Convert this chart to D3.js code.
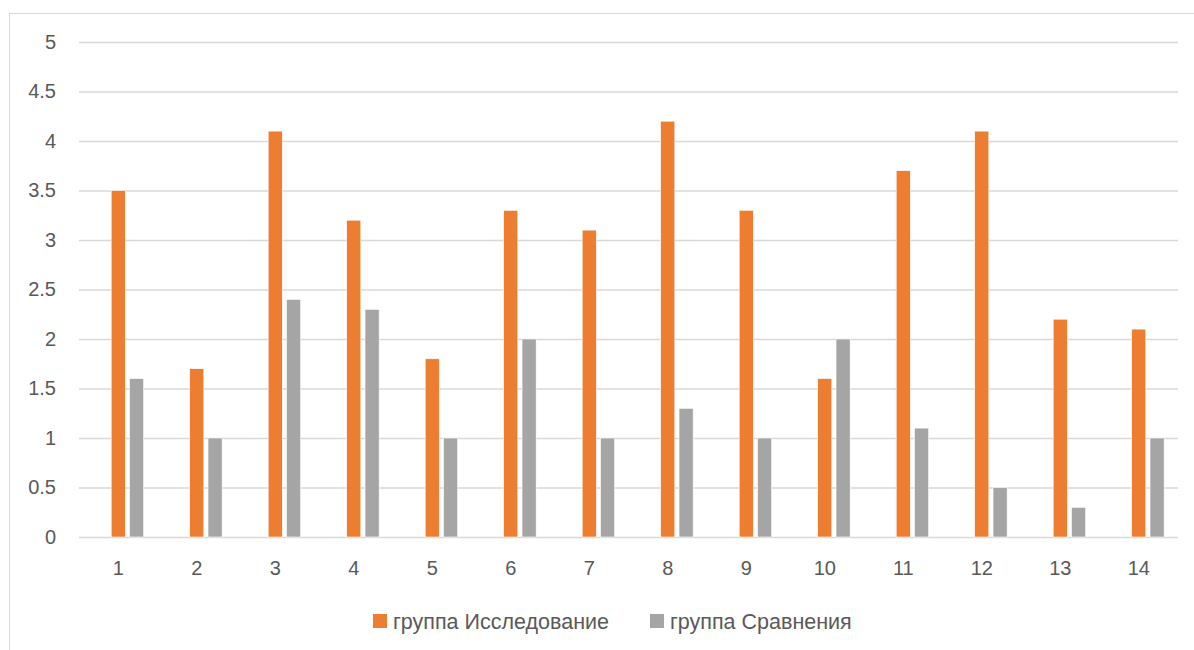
<!DOCTYPE html>
<html><head><meta charset="utf-8">
<script src="https://cdn.jsdelivr.net/npm/d3@7"></script>
<style>body{margin:0;background:#fff;} svg{display:block;}</style>
</head><body>
<svg id="c" width="1194" height="650"></svg>
<script>
const categories = ["1","2","3","4","5","6","7","8","9","10","11","12","13","14"];
const seriesNames = ["группа Исследование","группа Сравнения"];
const studyValues = [3.5,1.7,4.1,3.2,1.8,3.3,3.1,4.2,3.3,1.6,3.7,4.1,2.2,2.1];
const compareValues = [1.6,1.0,2.4,2.3,1.0,2.0,1.0,1.3,1.0,2.0,1.1,0.5,0.3,1.0];
const yTicks = [0,0.5,1,1.5,2,2.5,3,3.5,4,4.5,5];
const colors = ["#ED7D31","#A5A5A5"];

(function(){
const svg = d3.select("#c");
const font = "'Liberation Sans', Arial, sans-serif";
const textColor = "#595959";

svg.append("rect").attr("x",9.5).attr("y",13.5).attr("width",1200).attr("height",700)
  .attr("fill","#fff").attr("stroke","#d9d9d9").attr("stroke-width",1);

const pL = 79, pR = 1178, pT = 42, pB = 537;
const y = d3.scaleLinear().domain([0,5]).range([pB, pT]);
const x0 = d3.scaleBand().domain(categories).range([pL,pR]).paddingInner(0.353).paddingOuter(0.1765);
// three slots: empty leading slot so the first series sits at the category centre
const x1 = d3.scaleBand().domain(["_", "s0", "s1"]).range([0, x0.bandwidth()]).paddingInner(0.23);

const yAxis = d3.axisLeft(y).tickValues(yTicks).tickSize(-(pR-pL)).tickFormat(d3.format("~g")).tickPadding(23);
const gy = svg.append("g").attr("transform",`translate(${pL},0)`).call(yAxis);
gy.select(".domain").remove();
gy.selectAll(".tick line").attr("stroke","#d9d9d9").attr("stroke-width",1.3);
gy.selectAll(".tick text").attr("fill",textColor).attr("font-family",font).attr("font-size","20px");

const data = categories.map((c,i)=>({c, vals:[studyValues[i], compareValues[i]]}));
const groups = svg.append("g").selectAll("g").data(data).join("g")
  .attr("transform", d=>`translate(${x0(d.c)},0)`);
groups.selectAll("rect").data(d=>d.vals.map((v,k)=>({v,k}))).join("rect")
  .attr("x", d=>x1("s"+d.k)).attr("width", x1.bandwidth())
  .attr("y", d=>y(d.v)).attr("height", d=>y(0)-y(d.v))
  .attr("fill", d=>colors[d.k]).attr("stroke","#fff").attr("stroke-width",0.6);

const xAxis = d3.axisBottom(x0).tickSize(0).tickPadding(0);
const gx = svg.append("g").attr("transform",`translate(0,${pB})`).call(xAxis);
gx.select(".domain").remove();
gx.selectAll(".tick text").attr("fill",textColor).attr("font-family",font).attr("font-size","20px")
  .attr("dy",null).attr("y",38);

const legendX = [373, 650];
const lg = svg.append("g").selectAll("g").data(seriesNames).join("g")
  .attr("transform",(d,i)=>`translate(${legendX[i]},614)`);
lg.append("rect").attr("width",14).attr("height",14).attr("fill",(d,i)=>colors[i]);
lg.append("text").attr("x",20).attr("y",14.5).text(d=>d)
  .attr("fill",textColor).attr("font-family",font).attr("font-size","21.5px");
})();
</script>
</body></html>
